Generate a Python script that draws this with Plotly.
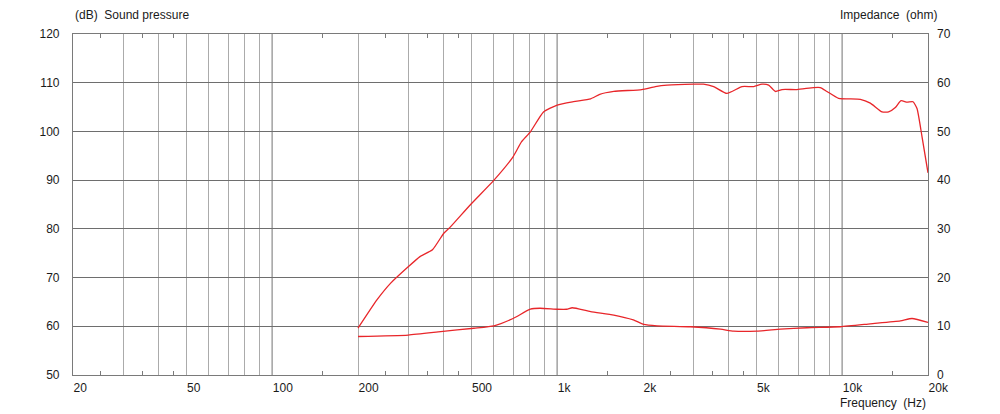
import plotly.graph_objects as go
import math

# ---- data ----
spl_freq = [200, 233, 260, 300, 330, 365, 400, 422, 495, 600, 700, 750, 805, 895, 1000,
            1140, 1310, 1410, 1580, 1980, 2210, 2430, 3010, 3260, 3540, 3940, 4450, 4890,
            5230, 5520, 5830, 6150, 6940, 7940, 8380, 8840, 9710, 11580, 12550, 13800,
            14550, 15360, 16080, 16880, 17720, 18300, 19060, 20000]
spl_db = [59.6, 65.4, 68.8, 72.2, 74.3, 75.7, 79.1, 80.4, 84.9, 90.0, 94.8, 97.9, 99.9, 104.0, 105.4,
          106.1, 106.7, 107.6, 108.2, 108.6, 109.2, 109.5, 109.7, 109.7, 109.2, 107.8, 109.2, 109.2,
          109.7, 109.5, 108.2, 108.6, 108.6, 109.0, 109.0, 108.2, 106.8, 106.6, 105.8, 104.0,
          104.0, 104.9, 106.3, 106.0, 106.1, 104.7, 98.9, 91.5]

imp_freq = [200, 300, 390, 510, 600, 700, 805, 870, 1000, 1080, 1130, 1310, 1580, 1850, 2010,
            2240, 2930, 3740, 4160, 5030, 6070, 7520, 9850, 12550, 16000, 17580, 20000]
imp_ohm = [7.9, 8.2, 8.9, 9.6, 10.1, 11.6, 13.5, 13.7, 13.5, 13.5, 13.8, 13.0, 12.3, 11.3, 10.4,
           10.1, 9.9, 9.4, 9.0, 9.0, 9.4, 9.7, 9.9, 10.5, 11.1, 11.6, 10.8]

grid_freqs = [20, 30, 40, 50, 60, 70, 80, 90, 100, 200, 300, 400, 500, 600, 700, 800, 900,
              1000, 2000, 3000, 4000, 5000, 6000, 7000, 8000, 9000, 10000, 20000]
label_map = {20: "20", 50: "50", 100: "100", 200: "200", 500: "500", 1000: "1k",
             2000: "2k", 5000: "5k", 10000: "10k", 20000: "20k"}
decade_freqs = [100, 1000, 10000]
minor_freqs = [25, 35, 45, 150, 250, 350, 450, 1500, 2500, 3500, 4500, 15000]

spl_range = [50, 120]
imp_range = [0, 70]

# ---- figure ----
RED = "#e8262a"
FONT = "Arial, Liberation Sans, sans-serif"
xr = [math.log10(20), math.log10(20000)]

fig = go.Figure()
fig.add_trace(go.Scatter(x=spl_freq, y=spl_db, mode="lines",
                         line=dict(color=RED, width=1.3, shape="spline", smoothing=0.5),
                         xaxis="x", yaxis="y", hoverinfo="skip", showlegend=False))
fig.add_trace(go.Scatter(x=imp_freq, y=imp_ohm, mode="lines",
                         line=dict(color=RED, width=1.3, shape="spline", smoothing=0.5),
                         xaxis="x", yaxis="y2", hoverinfo="skip", showlegend=False))
# invisible trace carrying the minor-tick axis
fig.add_trace(go.Scatter(x=[20, 20000], y=[50, 50], mode="lines", line=dict(width=0),
                         xaxis="x2", yaxis="y", hoverinfo="skip", showlegend=False))

for f in decade_freqs:
    fig.add_shape(type="line", xref="x", yref="paper", x0=f, x1=f, y0=0, y1=1,
                  line=dict(color="#6e6e6e", width=1.2), layer="below")

fig.update_layout(
    template="none",
    width=1000, height=414,
    margin=dict(l=73, r=72, t=34, b=39, pad=0),
    paper_bgcolor="white", plot_bgcolor="white",
    font=dict(family=FONT, size=12, color="#1a1a1a"),
    xaxis=dict(type="log", range=xr, tickvals=grid_freqs, automargin=False,
               ticktext=[label_map.get(f, "") for f in grid_freqs],
               showgrid=True, gridcolor="#ababab", gridwidth=1,
               ticks="", ticklabelposition="outside right", ticklabelstandoff=1,
               showline=True, linecolor="#7a7a7a", linewidth=1.2, mirror=True,
               zeroline=False),
    xaxis2=dict(type="log", range=xr, overlaying="x", anchor="y", tickvals=minor_freqs,
                automargin=False, showticklabels=False, ticks="inside", ticklen=4,
                tickwidth=1, tickcolor="#7a7a7a", mirror="ticks", showgrid=False,
                showline=False, zeroline=False),
    yaxis=dict(range=spl_range, dtick=10, tick0=50, showgrid=True, gridcolor="#6e6e6e",
               gridwidth=1, ticks="", ticklabelstandoff=10, showline=True, automargin=False,
               linecolor="#7a7a7a", linewidth=1.2, mirror=True, zeroline=False),
    yaxis2=dict(range=imp_range, dtick=10, tick0=0, overlaying="y", side="right",
                showgrid=False, ticks="", ticklabelstandoff=8, zeroline=False,
                automargin=False),
    annotations=[
        dict(text="(dB)\u00a0\u00a0Sound pressure", xref="paper", yref="paper", x=0, y=1,
             xanchor="left", yanchor="bottom", yshift=10, showarrow=False,
             font=dict(size=12)),
        dict(text="Impedance\u00a0\u00a0(ohm)", xref="paper", yref="paper", x=1, y=1,
             xanchor="right", yanchor="bottom", xshift=11, yshift=10, showarrow=False,
             font=dict(size=12)),
        dict(text="Frequency\u00a0\u00a0(Hz)", xref="paper", yref="paper", x=1, y=0,
             xanchor="right", yanchor="top", yshift=-19, showarrow=False,
             font=dict(size=12)),
    ],
)

fig.write_html("out.html", config={"displayModeBar": False},
               post_script="document.body.style.margin='0';")
